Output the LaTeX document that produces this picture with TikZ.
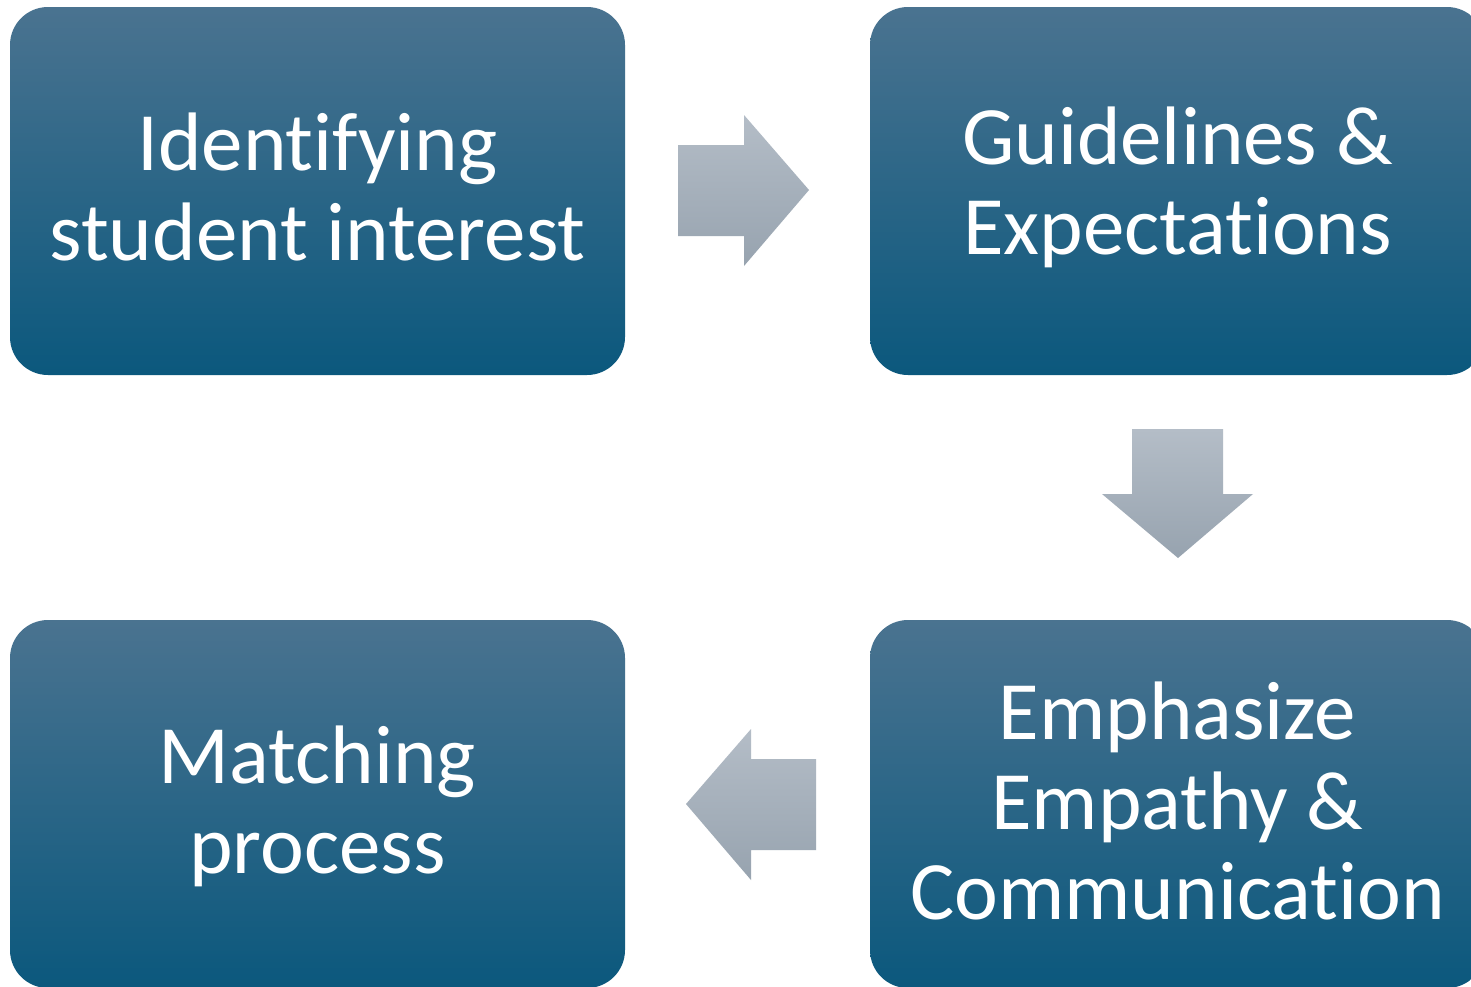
\documentclass[tikz,border=0pt]{standalone}
\usepackage{fontspec}
\setmainfont[RawFeature={-liga;-clig;-dlig}]{Carlito}
\definecolor{boxtop}{HTML}{4A7390}
\definecolor{boxmid}{HTML}{13638B}
\definecolor{boxbot}{HTML}{0B587D}
\definecolor{arrtop}{HTML}{B4BDC7}
\definecolor{arrbot}{HTML}{97A3AF}
\tikzset{
  stepbox/.style={rectangle, rounded corners=38pt, minimum width=615pt, minimum height=368pt,
    top color=boxtop, middle color=boxmid, bottom color=boxbot, draw=none, inner sep=0pt},
  steptext/.style={text=white, align=center, font=\fontsize{83pt}{90pt}\selectfont, inner sep=0pt},
  blockarrow/.style={top color=arrtop, bottom color=arrbot, draw=none}
}
\begin{document}
\begin{tikzpicture}[x=1pt,y=-1pt]
\useasboundingbox (0,0) rectangle (1471,986);
\clip (0,0) rectangle (1471,986);
\fill[white] (0,0) rectangle (1471,986);
\node[stepbox] (b1) at (317.5,191) {};
\node[stepbox] (b2) at (1177.5,191) {};
\node[stepbox] (b3) at (1177.5,804) {};
\node[stepbox] (b4) at (317.5,804) {};
\node[steptext, yshift=4pt] (t1) at (b1.center) {Identifying\\student interest};
\node[steptext, yshift=4pt] (t2) at (b2.center) {Guidelines \&\\Expectations};
\node[steptext, yshift=3pt] (t3) at (b3.center) {Emphasize\\Empathy \&\\Communication};
\node[steptext, yshift=-2pt] (t4) at (b4.center) {Matching\\process};
% right arrow b1 -> b2
\path[blockarrow] (678,145) -- (744,145) -- (744,115) -- (809,190) -- (744,266) -- (744,236) -- (678,236) -- cycle;
% down arrow b2 -> b3
\path[blockarrow] (1132,429) -- (1223,429) -- (1223,494) -- (1253,494) -- (1178,558) -- (1102,494) -- (1132,494) -- cycle;
% left arrow b3 -> b4
\path[blockarrow] (816,759) -- (751,759) -- (751,729) -- (686,804) -- (751,880) -- (751,850) -- (816,850) -- cycle;
\end{tikzpicture}
\end{document}
